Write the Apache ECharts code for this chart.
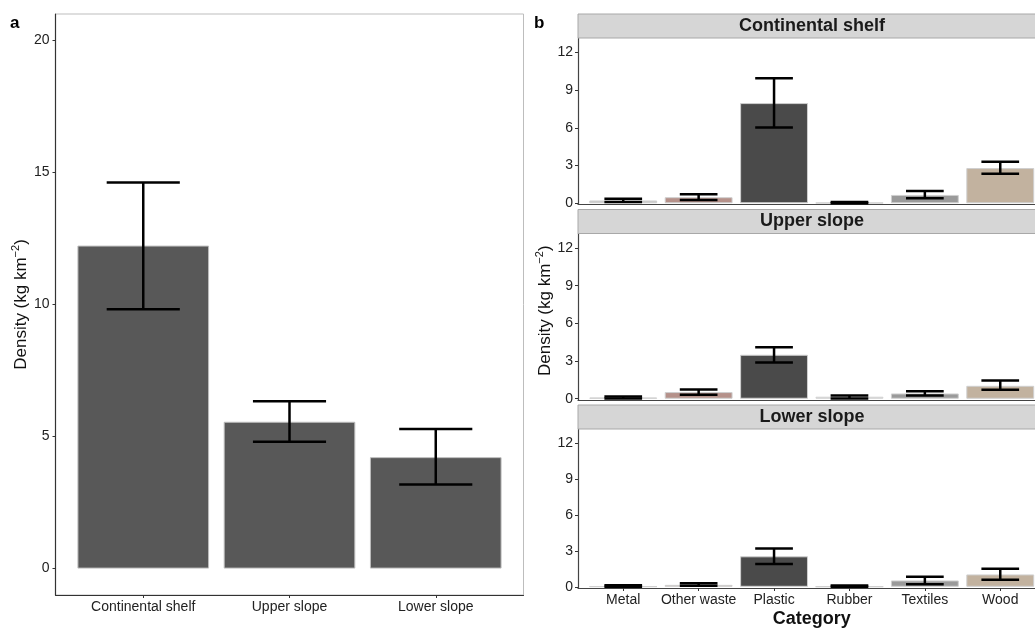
<!DOCTYPE html>
<html>
<head>
<meta charset="utf-8">
<title>Debris density</title>
<script src="https://cdn.jsdelivr.net/npm/echarts@6/dist/echarts.min.js"></script>
<style>
  html, body { margin: 0; padding: 0; background: #fff; overflow: hidden; }
  /* the figure is a little wider than the window: its right edge is cut off */
  #main { width: 1046px; height: 629px; }
</style>
</head>
<body>
<div id="main"></div>
<script>
// panel a: total density by zone
var regions = ['Continental shelf', 'Upper slope', 'Lower slope'];
var totalMean = [12.23, 5.56, 4.22];
var totalLow = [9.82, 4.80, 3.18];
var totalHigh = [14.62, 6.34, 5.29];
var yTicksA = [0, 5, 10, 15, 20];

// panel b: density by category, one facet per zone
var categories = ['Metal', 'Other waste', 'Plastic', 'Rubber', 'Textiles', 'Wood'];
var shelfMean = [0.22, 0.48, 7.97, 0.04, 0.66, 2.80];
var shelfLow = [0.10, 0.26, 6.02, 0.00, 0.40, 2.34];
var shelfHigh = [0.35, 0.72, 9.94, 0.10, 0.98, 3.30];
var upperMean = [0.10, 0.53, 3.50, 0.16, 0.42, 1.03];
var upperLow = [0.02, 0.32, 2.89, 0.02, 0.26, 0.71];
var upperHigh = [0.18, 0.74, 4.10, 0.26, 0.60, 1.45];
var lowerMean = [0.03, 0.16, 2.54, 0.02, 0.53, 1.03];
var lowerLow = [0.00, 0.08, 1.90, 0.00, 0.21, 0.58];
var lowerHigh = [0.13, 0.29, 3.20, 0.10, 0.84, 1.51];
var yTicksB = [0, 3, 6, 9, 12];

var catColors = ['#c9c9c9', '#b5918a', '#4a4a4a', '#efefef', '#9a9a9a', '#c2b29f'];

var font = 'Liberation Sans, Arial, sans-serif';
var myChart = echarts.init(document.getElementById('main'));

// error bar drawn through the axis scales; cap is half a band wide
function errorItem(params, api) {
    var x = api.value(0);
    var top = api.coord([x, api.value(2)]);
    var bot = api.coord([x, api.value(1)]);
    var half = api.size([1, 0])[0] * 0.25;
    var st = { stroke: '#000', lineWidth: 2.5 };
    return {
        type: 'group',
        children: [
            { type: 'line', shape: { x1: top[0], y1: top[1], x2: bot[0], y2: bot[1] }, style: st },
            { type: 'line', shape: { x1: top[0] - half, y1: top[1], x2: top[0] + half, y2: top[1] }, style: st },
            { type: 'line', shape: { x1: bot[0] - half, y1: bot[1], x2: bot[0] + half, y2: bot[1] }, style: st }
        ]
    };
}

function errData(low, high) {
    return low.map(function (v, i) { return [i, v, high[i]]; });
}
function indexList(arr) {
    return arr.map(function (d, i) { return i; });
}

var facetMeans = [shelfMean, upperMean, lowerMean];
var facetLows = [shelfLow, upperLow, lowerLow];
var facetHighs = [shelfHigh, upperHigh, lowerHigh];
var facetTops = [38, 233.5, 429];
var facetHeight = 166.5;
var stripTops = [14, 209.5, 405];

var grids = [{ left: 55.5, top: 14, width: 468, height: 581, show: true, borderColor: '#bdbdbd', borderWidth: 1 }];
facetTops.forEach(function (t) {
    grids.push({ left: 578, top: t, width: 467.5, height: facetHeight, show: false });
});

var axisTextStyle = { color: '#222', fontSize: 14, fontFamily: font };
var nameRich = {
    a: { fontSize: 17, fontFamily: font, color: '#111', lineHeight: 22 },
    s: { fontSize: 11, fontFamily: font, color: '#111', verticalAlign: 'top', lineHeight: 22, padding: [0, 0, 8, 0] }
};

// discrete x scales with ggplot's 0.6 expansion on each side
var xAxes = [{
    type: 'value', gridIndex: 0, min: -0.6, max: regions.length - 0.4,
    axisLine: { onZero: false, lineStyle: { color: '#333', width: 1.2 } },
    axisTick: { show: true, length: 3, customValues: indexList(regions), lineStyle: { color: '#333' } },
    axisLabel: Object.assign({
        margin: 5, customValues: indexList(regions),
        formatter: function (v) { return regions[Math.round(v)]; }
    }, axisTextStyle),
    splitLine: { show: false }
}];
var yAxes = [{
    type: 'value', gridIndex: 0, min: -1, max: 21,
    axisLine: { show: true, onZero: false, lineStyle: { color: '#333', width: 1.2 } },
    axisTick: { show: true, length: 3, customValues: yTicksA, lineStyle: { color: '#333' } },
    axisLabel: Object.assign({ margin: 6, customValues: yTicksA }, axisTextStyle),
    splitLine: { show: false },
    name: '{a|Density (kg km}{s|−2}{a|)}',
    nameLocation: 'middle', nameGap: 22, nameRotate: 90,
    nameTextStyle: { rich: nameRich }
}];

facetTops.forEach(function (t, k) {
    var last = k === facetTops.length - 1;
    xAxes.push({
        type: 'value', gridIndex: k + 1, min: -0.6, max: categories.length - 0.4,
        axisLine: { onZero: false, lineStyle: { color: '#444', width: 1.2 } },
        axisTick: { show: last, length: 3, customValues: indexList(categories), lineStyle: { color: '#333' } },
        axisLabel: Object.assign({
            show: last, margin: 5, customValues: indexList(categories),
            formatter: function (v) { return categories[Math.round(v)]; }
        }, axisTextStyle),
        splitLine: { show: false },
        name: last ? 'Category' : '',
        nameLocation: 'middle', nameGap: 22,
        nameTextStyle: { fontSize: 18, fontWeight: 'bold', color: '#111', fontFamily: font }
    });
    yAxes.push({
        type: 'value', gridIndex: k + 1, min: -0.1, max: 13.15,
        axisLine: { show: true, onZero: false, lineStyle: { color: '#444', width: 1.2 } },
        axisTick: { show: true, length: 3, customValues: yTicksB, lineStyle: { color: '#333' } },
        axisLabel: Object.assign({ margin: 5, customValues: yTicksB }, axisTextStyle),
        splitLine: { show: false },
        name: k === 1 ? '{a|Density (kg km}{s|−2}{a|)}' : '',
        nameLocation: 'middle', nameGap: 18, nameRotate: 90,
        nameTextStyle: { rich: nameRich, padding: [0, 0, 0, 12] }
    });
});

var series = [
    {
        type: 'bar', xAxisIndex: 0, yAxisIndex: 0,
        data: totalMean.map(function (v, i) { return [i, v]; }),
        barCategoryGap: '10%',
        itemStyle: { color: '#585858', borderColor: '#bdbdbd', borderWidth: 1 }
    },
    {
        type: 'custom', xAxisIndex: 0, yAxisIndex: 0,
        renderItem: errorItem, data: errData(totalLow, totalHigh), z: 5
    }
];
facetMeans.forEach(function (m, k) {
    series.push({
        type: 'bar', xAxisIndex: k + 1, yAxisIndex: k + 1,
        data: m.map(function (v, i) { return { value: [i, v], itemStyle: { color: catColors[i] } }; }),
        barCategoryGap: '10%',
        itemStyle: { borderColor: '#cfcfcf', borderWidth: 1 }
    });
    series.push({
        type: 'custom', xAxisIndex: k + 1, yAxisIndex: k + 1,
        renderItem: errorItem, data: errData(facetLows[k], facetHighs[k]), z: 5
    });
});

// facet strips and panel tags
var graphics = [
    { type: 'text', left: 10, top: 15, style: { text: 'a', fontSize: 17, fontWeight: 'bold', fill: '#000', fontFamily: font } },
    { type: 'text', left: 534, top: 15, style: { text: 'b', fontSize: 17, fontWeight: 'bold', fill: '#000', fontFamily: font } }
];
var stripNames = regions;
stripTops.forEach(function (t, k) {
    graphics.push({
        type: 'rect', shape: { x: 578, y: t, width: 470, height: facetTops[k] - t },
        style: { fill: '#d6d6d6', stroke: '#a8a8a8', lineWidth: 1 }, z: 10
    });
    graphics.push({
        type: 'text', x: 812, y: (t + facetTops[k]) / 2, z: 11,
        style: { text: stripNames[k], fontSize: 18, fontWeight: 'bold', fill: '#1a1a1a', fontFamily: font, align: 'center', verticalAlign: 'middle' }
    });
});

var option = {
    animation: false,
    backgroundColor: '#fff',
    grid: grids,
    xAxis: xAxes,
    yAxis: yAxes,
    series: series,
    graphic: graphics
};
myChart.setOption(option);
</script>
</body>
</html>
